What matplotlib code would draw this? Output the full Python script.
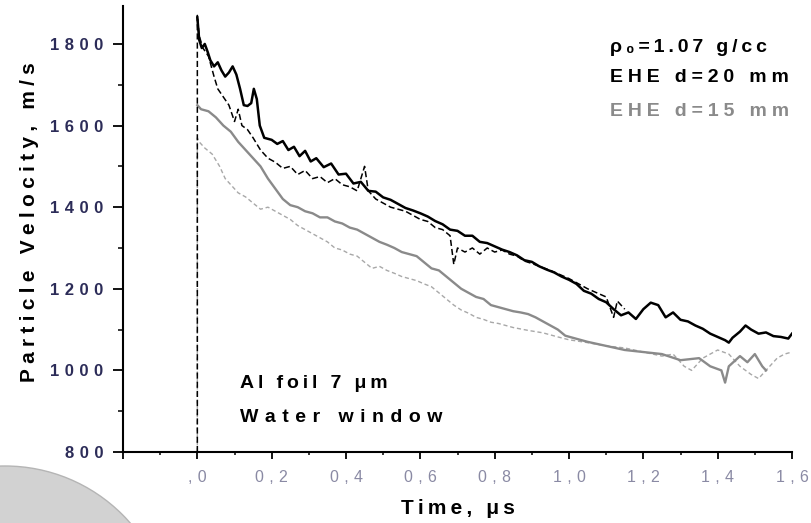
import matplotlib
matplotlib.use("Agg")
import matplotlib.pyplot as plt
from matplotlib.patches import Ellipse
from matplotlib.ticker import MultipleLocator, FixedLocator

plt.rcParams['font.family'] = ['Liberation Sans', 'DejaVu Sans']

# EHE d=20 mm, shot 1 (black solid)
t_20a = [0.000, 0.005, 0.012, 0.020, 0.028, 0.035, 0.045, 0.055, 0.065, 0.075,
         0.085, 0.095, 0.105, 0.115, 0.125, 0.135, 0.145, 0.152, 0.160, 0.168,
         0.180, 0.200, 0.215, 0.230, 0.245, 0.260, 0.275, 0.290, 0.305, 0.320,
         0.340, 0.360, 0.380, 0.400, 0.420, 0.440, 0.460, 0.480, 0.500, 0.520,
         0.540, 0.560, 0.580, 0.600, 0.620, 0.640, 0.660, 0.680, 0.700, 0.720,
         0.740, 0.760, 0.780, 0.800, 0.820, 0.840, 0.860, 0.880, 0.900, 0.920,
         0.940, 0.960, 0.980, 1.000, 1.020, 1.040, 1.060, 1.080, 1.100, 1.120,
         1.140, 1.160, 1.180, 1.200, 1.220, 1.240, 1.260, 1.280, 1.300, 1.320,
         1.340, 1.360, 1.380, 1.400, 1.420, 1.430, 1.440, 1.460, 1.475, 1.490,
         1.510, 1.530, 1.550, 1.570, 1.590, 1.600]
v_20a = [1865, 1810, 1790, 1800, 1780, 1760, 1745, 1755, 1735, 1720,
         1730, 1745, 1725, 1690, 1650, 1648, 1655, 1690, 1665, 1600,
         1570, 1565, 1555, 1562, 1540, 1548, 1525, 1538, 1512, 1520,
         1498, 1507, 1480, 1482, 1458, 1462, 1440, 1438, 1424, 1418,
         1408, 1398, 1392, 1385, 1377, 1366, 1358, 1345, 1342, 1330,
         1330, 1315, 1312, 1304, 1296, 1290, 1282, 1270, 1266, 1255,
         1247, 1240, 1230, 1222, 1212, 1195, 1188, 1175, 1167, 1150,
         1135, 1142, 1126, 1150, 1166, 1160, 1130, 1142, 1124, 1120,
         1110, 1102, 1090, 1082, 1074, 1068, 1080, 1095, 1110, 1100,
         1090, 1093, 1084, 1082, 1078, 1090]

# EHE d=20 mm, shot 2 (black dashed)
t_20b = [0.000, 0.000, 0.005, 0.015, 0.030, 0.045, 0.055, 0.070, 0.085, 0.100,
         0.110, 0.120, 0.135, 0.150, 0.170, 0.190, 0.210, 0.230, 0.250, 0.270,
         0.290, 0.310, 0.330, 0.350, 0.370, 0.390, 0.410, 0.430, 0.450, 0.460,
         0.480, 0.500, 0.520, 0.540, 0.560, 0.580, 0.600, 0.620, 0.640, 0.660,
         0.680, 0.690, 0.700, 0.720, 0.740, 0.760, 0.780, 0.800, 0.820, 0.840,
         0.860, 0.880, 0.900, 0.950, 1.000, 1.050, 1.100, 1.120, 1.130, 1.150]
v_20b = [800, 1870, 1820, 1790, 1770, 1720, 1690, 1670, 1650, 1610,
         1640, 1600, 1590, 1570, 1540, 1520, 1510, 1495, 1500, 1480,
         1490, 1470, 1475, 1460, 1470, 1455, 1450, 1440, 1500, 1440,
         1420, 1410, 1400, 1395, 1390, 1380, 1370, 1365, 1350, 1345,
         1330, 1260, 1300, 1290, 1300, 1285, 1300, 1290, 1295, 1285,
         1280, 1268, 1262, 1245, 1225, 1200, 1180, 1130, 1170, 1150]

# EHE d=15 mm, shot 1 (gray solid)
t_15a = [0.000, 0.010, 0.030, 0.050, 0.070, 0.090, 0.110, 0.130, 0.150, 0.170,
         0.190, 0.210, 0.230, 0.250, 0.270, 0.290, 0.310, 0.330, 0.350, 0.370,
         0.390, 0.410, 0.430, 0.450, 0.470, 0.490, 0.510, 0.530, 0.550, 0.570,
         0.590, 0.610, 0.630, 0.650, 0.670, 0.690, 0.710, 0.730, 0.750, 0.770,
         0.790, 0.810, 0.830, 0.850, 0.870, 0.890, 0.910, 0.930, 0.950, 0.970,
         0.990, 1.010, 1.050, 1.100, 1.150, 1.200, 1.250, 1.300, 1.350, 1.380,
         1.410, 1.420, 1.430, 1.460, 1.480, 1.500, 1.520, 1.530]
v_15a = [1650, 1640, 1635, 1620, 1600, 1585, 1560, 1540, 1520, 1500,
         1470, 1445, 1420, 1405, 1400, 1390, 1385, 1375, 1375, 1365,
         1360, 1350, 1345, 1335, 1325, 1315, 1308, 1300, 1290, 1285,
         1280, 1265, 1250, 1245, 1230, 1215, 1200, 1190, 1180, 1175,
         1160, 1155, 1150, 1145, 1142, 1138, 1130, 1120, 1110, 1100,
         1085, 1080, 1070, 1060, 1050, 1045, 1040, 1025, 1030, 1010,
         1000, 970, 1010, 1035, 1020, 1040, 1010, 1000]

# EHE d=15 mm, shot 2 (gray dotted)
t_15b = [0.000, 0.000, 0.005, 0.020, 0.040, 0.060, 0.075, 0.090, 0.110, 0.130,
         0.150, 0.170, 0.190, 0.210, 0.230, 0.250, 0.270, 0.290, 0.310, 0.330,
         0.350, 0.370, 0.390, 0.410, 0.430, 0.450, 0.470, 0.490, 0.510, 0.530,
         0.550, 0.570, 0.590, 0.610, 0.630, 0.650, 0.670, 0.690, 0.710, 0.730,
         0.750, 0.770, 0.790, 0.810, 0.850, 0.890, 0.930, 0.970, 1.000, 1.050,
         1.100, 1.150, 1.200, 1.250, 1.280, 1.310, 1.330, 1.360, 1.400, 1.430,
         1.460, 1.490, 1.510, 1.530, 1.560, 1.580, 1.600]
v_15b = [800, 1570, 1560, 1545, 1530, 1500, 1470, 1455, 1435, 1425,
         1410, 1395, 1400, 1390, 1380, 1370, 1355, 1345, 1335, 1325,
         1315, 1300, 1295, 1285, 1280, 1265, 1250, 1255, 1245, 1238,
         1230, 1225, 1220, 1212, 1205, 1190, 1175, 1160, 1148, 1140,
         1130, 1125, 1118, 1115, 1105, 1098, 1092, 1082, 1075, 1068,
         1060, 1055, 1045, 1035, 1040, 1010, 1000, 1030, 1050, 1040,
         1010, 990, 980, 1000, 1030, 1040, 1045]

x_ticks = [-0.2, 0.0, 0.2, 0.4, 0.6, 0.8, 1.0, 1.2, 1.4, 1.6]
x_labels = ['', ',0', '0,2', '0,4', '0,6', '0,8', '1,0', '1,2', '1,4', '1,6']
y_ticks = [800, 1000, 1200, 1400, 1600, 1800]
y_labels = ['800', '1000', '1200', '1400', '1600', '1800']

THIN = '\u2009'
MID = '\u2005'
WIDE = '\u2004'


def spaced(s, gap):
    # the original lettering is set very loosely
    return gap.join(s)


fig = plt.figure(figsize=(8.11, 5.23), dpi=100)

# grey scanned blob in the lower-left corner
fig.add_artist(Ellipse((5 / 811, 1 - 632 / 523), 2 * 166 / 811, 2 * 166 / 523,
                       facecolor='#d2d2d2', edgecolor='#b5b5b5', lw=1.0,
                       transform=fig.transFigure, zorder=0))

ax = fig.add_axes([123 / 811, 1 - 452 / 523, (792 - 123) / 811, (452 - 6) / 523])

ax.plot(t_15b, v_15b, color='#a8a8a8', lw=1.0, ls=(0, (3, 2)))
ax.plot(t_15a, v_15a, color='#8a8a8a', lw=1.7)
ax.plot(t_20b, v_20b, color='black', lw=1.1, ls=(0, (4, 2)))
ax.plot(t_20a, v_20a, color='black', lw=1.8)

ax.set_xlim(-0.2, 1.6)
ax.set_ylim(800, 1893)

for s in ['top', 'right']:
    ax.spines[s].set_visible(False)
for s in ['left', 'bottom']:
    ax.spines[s].set_linewidth(1.5)

ax.xaxis.set_major_locator(FixedLocator(x_ticks))
ax.set_xticklabels([spaced(l, WIDE) for l in x_labels])
ax.xaxis.set_minor_locator(MultipleLocator(0.1))
ax.set_yticks(y_ticks)
ax.set_yticklabels([spaced(l, WIDE) for l in y_labels])
ax.yaxis.set_minor_locator(MultipleLocator(100))

ax.tick_params(axis='y', which='major', direction='out', length=7, width=1.3,
               labelsize=12, labelcolor='#2c2c58', pad=7)
ax.tick_params(axis='y', which='minor', direction='out', length=3.5, width=1.1)
ax.tick_params(axis='x', which='major', direction='out', length=5, width=1.3,
               labelsize=11.5, labelcolor='#8a8aa4', pad=8)
ax.tick_params(axis='x', which='minor', direction='out', length=2.5, width=1.1)
for lab in ax.get_yticklabels():
    lab.set_fontweight('bold')

fig.text(30 / 811, 1 - 222 / 523, spaced('Particle Velocity, m/s', MID),
         rotation=90, ha='center', va='center', fontsize=15, fontweight='bold')
fig.text(458 / 811, 1 - 508 / 523, spaced('Time, \u03bcs', THIN),
         ha='center', va='center', fontsize=15, fontweight='bold')

fig.text(610 / 811, 1 - 52 / 523, spaced('\u03c1\u2080=1.07 g/cc', THIN),
         ha='left', va='baseline', fontsize=14, fontweight='bold', color='black')
fig.text(610 / 811, 1 - 82 / 523, spaced('EHE d=20 mm', MID), ha='left',
         va='baseline', fontsize=14, fontweight='bold', color='black')
fig.text(610 / 811, 1 - 116 / 523, spaced('EHE d=15 mm', MID), ha='left',
         va='baseline', fontsize=14, fontweight='bold', color='#8a8a8a')

fig.text(240 / 811, 1 - 388 / 523, spaced('Al foil 7 \u03bcm', THIN),
         ha='left', va='baseline', fontsize=14, fontweight='bold')
fig.text(240 / 811, 1 - 422 / 523, spaced('Water window', WIDE),
         ha='left', va='baseline', fontsize=14, fontweight='bold')

fig.savefig('out.png', dpi=100)
